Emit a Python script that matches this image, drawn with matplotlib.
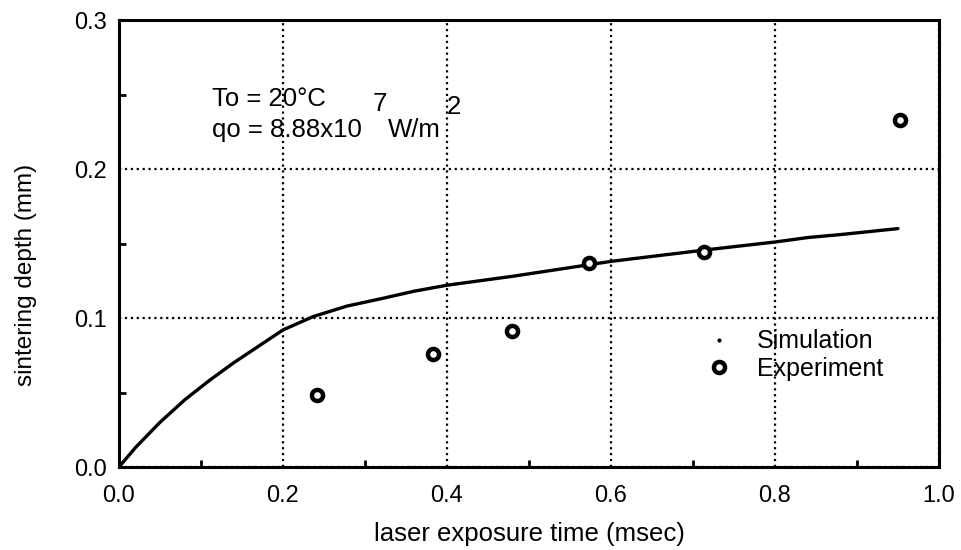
import matplotlib
matplotlib.use('Agg')
import matplotlib.pyplot as plt
from matplotlib.lines import Line2D
from matplotlib.ticker import MultipleLocator

plt.rcParams['font.family'] = ['Liberation Sans', 'DejaVu Sans']

# simulation curve
sim_t = [0, 0.02, 0.05, 0.08, 0.11, 0.14, 0.17, 0.2, 0.237, 0.278, 0.32,
         0.36, 0.4, 0.44, 0.48, 0.54, 0.6, 0.66, 0.72, 0.8, 0.84, 0.88, 0.95]
sim_depth = [0, 0.013, 0.030, 0.045, 0.058, 0.070, 0.081, 0.092, 0.101, 0.108, 0.113,
             0.118, 0.122, 0.125, 0.128, 0.133, 0.138, 0.142, 0.146, 0.151, 0.154, 0.156, 0.160]

# experiment points
exp_t = [0.241, 0.383, 0.479, 0.573, 0.713, 0.952]
exp_depth = [0.048, 0.076, 0.091, 0.137, 0.144, 0.233]

xticks = [0.0, 0.2, 0.4, 0.6, 0.8, 1.0]
yticks = [0.0, 0.1, 0.2, 0.3]

fig = plt.figure(figsize=(9.62, 5.5), dpi=100)
ax = fig.add_axes([0.1237, 0.1509, 0.976 - 0.1237, 0.9636 - 0.1509])

ax.plot(sim_t, sim_depth, color='black', lw=2.4, solid_capstyle='round',
        solid_joinstyle='round')
ax.plot(exp_t, exp_depth, linestyle='none', marker='o', markersize=8,
        markerfacecolor='white', markeredgecolor='black', markeredgewidth=3.2)

ax.set_xlim(0, 1.0)
ax.set_ylim(0, 0.3)
ax.set_xticks(xticks)
ax.set_yticks(yticks)
ax.set_xticklabels(['%.1f' % v for v in xticks])
ax.set_yticklabels(['%.1f' % v for v in yticks])
ax.xaxis.set_minor_locator(MultipleLocator(0.1))
ax.yaxis.set_minor_locator(MultipleLocator(0.05))

ax.grid(True, which='major', color='black', linestyle=':', lw=1.6)
ax.tick_params(which='both', direction='in', top=False, right=False, color='black')
ax.tick_params(which='major', length=0, labelsize=17)
ax.tick_params(which='minor', length=5, width=2)
ax.tick_params(axis='x', which='major', pad=13)
ax.tick_params(axis='y', which='major', pad=9)
for s in ax.spines.values():
    s.set_linewidth(2.2)

ax.set_xlabel('laser exposure time (msec)', fontsize=18.5, labelpad=11)
ax.set_ylabel('sintering depth (mm)', fontsize=17.5)
ax.yaxis.set_label_coords(-0.1, 0.43)

# annotation
ax.text(0.114, 0.247, 'To = 20\u00b0C', fontsize=18.5, va='center', ha='left')
ax.text(0.114, 0.2265, 'qo = 8.88x10', fontsize=18.5, va='center', ha='left')
ax.text(0.309, 0.2435, '7', fontsize=18.5, va='center', ha='left')
ax.text(0.328, 0.2265, 'W/m', fontsize=18.5, va='center', ha='left')
ax.text(0.400, 0.2415, '2', fontsize=18.5, va='center', ha='left')

handles = [Line2D([], [], linestyle='none', marker='.', markersize=4, color='black'),
           Line2D([], [], linestyle='none', marker='o', markersize=8,
                  markerfacecolor='white', markeredgecolor='black', markeredgewidth=3.2)]
ax.legend(handles, ['Simulation', 'Experiment'], loc='upper left',
          bbox_to_anchor=(0.711, 0.319), frameon=False, fontsize=18,
          handlelength=1.0, handletextpad=1.0, labelspacing=0.15,
          borderaxespad=0, borderpad=0.2)

fig.savefig('out.png', dpi=100)
